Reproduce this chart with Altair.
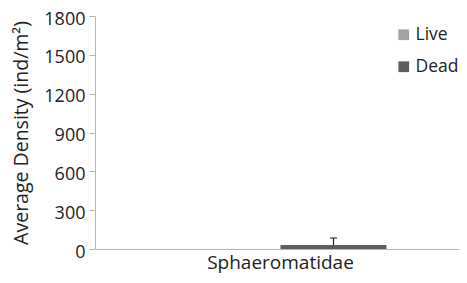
import altair as alt
import pandas as pd

categories = ["Sphaeromatidae"]
statuses = ["Live", "Dead"]
means = [0, 30]
errors = [0, 55]
y_ticks = [0, 300, 600, 900, 1200, 1500, 1800]

rows = []
for c in categories:
    for s, m, e in zip(statuses, means, errors):
        rows.append({"family": c, "status": s, "mean": m, "upper": m + e, "err": e})
df = pd.DataFrame(rows)

FONT = "Open Sans"
colors = ["#a3a3a3", "#5e5e5e"]

x = alt.X("family:N", title=None,
          scale=alt.Scale(paddingInner=0, paddingOuter=0.3585, align=0.523),
          axis=alt.Axis(labelAngle=0, ticks=False, labelFontSize=19, labelFont=FONT,
                        labelColor="#222", labelPadding=4, domainColor="#b5b5b5"))
xo = alt.XOffset("status:N", sort=statuses, scale=alt.Scale(paddingInner=0, paddingOuter=0))

yaxis = alt.Axis(values=y_ticks, format="d", labelOverlap=False, grid=False,
                 labelFontSize=18, labelFont=FONT, labelColor="#222", labelOffset=3,
                 titleFontSize=19.5, titleFont=FONT, titleColor="#222",
                 titleFontWeight="normal", titlePadding=12,
                 domainColor="#b5b5b5", tickColor="#b5b5b5", tickSize=6,
                 labelPadding=4)
yscale = alt.Scale(domain=[0, 1800])
ytitle = "Average Density (ind/m²)"

bars = alt.Chart(df).mark_bar().encode(
    x=x, xOffset=xo,
    y=alt.Y("mean:Q", title=ytitle, scale=yscale, axis=yaxis),
    color=alt.Color("status:N", sort=statuses,
                    scale=alt.Scale(domain=statuses, range=colors),
                    legend=alt.Legend(title=None, orient="none", legendX=300, legendY=10,
                                      symbolType="square", symbolSize=115,
                                      symbolStrokeWidth=0, labelFontSize=17.5,
                                      labelFont=FONT, labelColor="#222",
                                      rowPadding=13, labelOffset=3)),
)

errdf = alt.Chart(df).transform_filter("datum.err > 0")
rule = errdf.mark_rule(color="#222", strokeWidth=1.2).encode(
    x=x, xOffset=xo,
    y=alt.Y("mean:Q", title=ytitle, scale=yscale, axis=yaxis),
    y2="upper:Q")
cap = errdf.mark_tick(color="#222", thickness=1.5, size=7).encode(
    x=x, xOffset=xo,
    y=alt.Y("upper:Q", title=ytitle, scale=yscale, axis=yaxis))

chart = alt.layer(bars, rule, cap).properties(
    width=364, height=233,
    autosize=alt.AutoSizeParams(type="none"),
    padding={"left": 87, "top": 8, "right": 0, "bottom": 26},
).configure_view(stroke=None)

chart.save("out.html", embed_options={"renderer": "svg", "actions": False})
